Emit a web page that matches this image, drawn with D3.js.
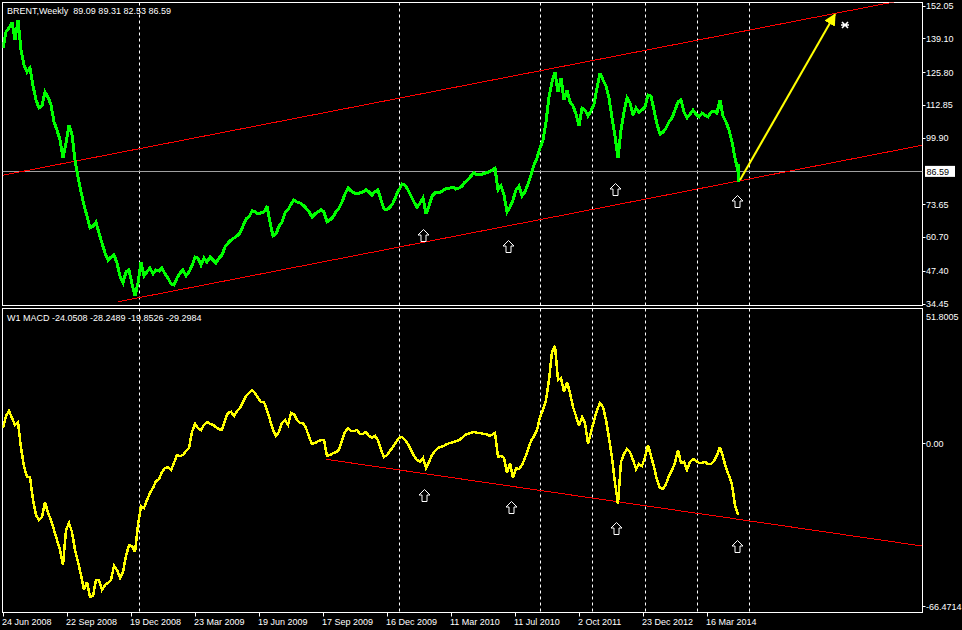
<!DOCTYPE html>
<html>
<head>
  <meta charset="utf-8">
  <title>BRENT Weekly + MACD</title>
  <script src="https://d3js.org/d3.v7.min.js"></script>
  <style>
    html, body { margin: 0; padding: 0; background: #000; }
    svg { display: block; }
    text { font-family: "Liberation Sans", Arial, sans-serif; font-size: 9px; fill: #fff; white-space: pre; }
  </style>
</head>
<body>
  <svg width="962" height="630"></svg>

  <script>
    // one value every 3 bars, first bar = 24 Jun 2008
    const step = 3;

    const price = [
      135.3, 141.6, 143.2, 145.5, 138.4, 146.3, 134.5, 128.6, 125.8, 127.4,
      120.3, 114.8, 111.6, 112.4, 117.9, 115.9, 112.8, 106.1, 102.9, 99.0,
      91.9, 97.8, 104.9, 101.0, 91.1, 84.4, 78.5, 73.3, 69.0, 64.3,
      65.0, 66.6, 62.3, 58.3, 54.4, 51.6, 52.8, 53.6, 50.4, 45.3,
      42.6, 46.9, 47.7, 42.2, 37.4, 42.6, 50.8, 45.3, 46.9, 48.5,
      46.1, 47.7, 47.3, 48.5, 46.1, 44.5, 42.2, 41.8, 44.5, 46.5,
      47.7, 45.3, 46.9, 49.3, 52.8, 52.4, 49.6, 52.4, 50.8, 52.8,
      51.6, 50.4, 52.4, 53.6, 56.8, 58.3, 59.5, 60.3, 61.1, 62.3,
      65.0, 67.8, 68.6, 71.0, 70.6, 69.8, 70.2, 70.6, 72.9, 66.6,
      61.1, 61.9, 65.0, 66.6, 70.2, 71.4, 73.7, 75.3, 74.5, 74.1,
      73.3, 72.1, 70.6, 68.6, 69.8, 70.6, 71.4, 70.6, 66.6, 67.4,
      68.6, 70.6, 72.1, 74.5, 77.7, 80.0, 78.9, 78.1, 77.7, 78.1,
      78.5, 79.3, 78.5, 77.3, 78.5, 79.3, 75.3, 71.8, 71.4, 72.5,
      74.1, 76.9, 79.3, 81.6, 81.2, 79.3, 76.9, 74.5, 72.5, 74.1,
      76.1, 69.8, 72.9, 76.9, 78.1, 78.1, 78.5, 79.3, 80.0, 80.0,
      80.4, 79.6, 80.0, 80.8, 82.4, 83.2, 84.8, 86.0, 85.2, 85.2,
      85.6, 86.0, 86.4, 87.1, 87.9, 79.3, 80.8, 77.3, 70.6, 72.5,
      75.3, 79.3, 80.8, 76.9, 78.5, 81.6, 85.2, 89.1, 91.9, 95.8,
      99.0, 106.1, 115.9, 121.9, 125.8, 117.9, 123.4, 114.8, 118.7, 114.0,
      112.4, 109.2, 104.5, 111.6, 110.8, 108.4, 110.4, 113.2, 119.5, 125.4,
      122.7, 120.3, 115.6, 107.7, 100.6, 91.9, 102.9, 110.0, 115.6, 113.6,
      108.8, 111.6, 110.0, 110.8, 112.0, 116.7, 116.3, 110.8, 105.3, 101.3,
      102.1, 103.7, 106.1, 107.7, 110.8, 114.0, 114.8, 110.0, 107.7, 109.2,
      110.8, 109.2, 108.1, 109.6, 108.8, 108.1, 110.0, 110.4, 109.6, 114.8,
      108.4, 106.1, 102.9, 98.2, 91.9, 86.59
    ];

    const macd = [
      6.1, 11.0, 13.1, 10.2, 7.4, 8.6, -2.0, -9.4, -13.9, -13.9,
      -23.2, -29.4, -31.4, -30.2, -24.0, -28.5, -31.4, -35.5, -39.5, -43.6,
      -49.7, -35.5, -32.6, -36.3, -43.6, -48.5, -53.8, -59.9, -56.7, -62.8,
      -62.4, -55.9, -55.9, -59.9, -57.9, -57.1, -55.9, -50.1, -51.8, -55.0,
      -52.6, -46.1, -41.6, -42.0, -44.4, -33.4, -25.7, -26.5, -23.2, -20.4,
      -18.3, -15.5, -14.7, -11.8, -10.2, -9.8, -11.0, -8.1, -4.9, -5.3,
      -4.9, -3.2, -2.0, 4.5, 7.8, 6.1, 5.3, 7.4, 8.6, 7.8,
      7.4, 6.5, 5.7, 5.3, 9.4, 12.3, 12.7, 11.0, 13.1, 14.3,
      16.7, 19.2, 20.4, 21.6, 20.4, 18.4, 16.7, 16.7, 13.5, 9.4,
      5.3, 2.9, 4.5, 8.2, 9.4, 7.4, 12.3, 11.8, 9.4, 8.2,
      8.2, 6.1, 2.5, -0.4, 0.0, 0.8, 1.2, 1.2, -5.3, -4.9,
      -4.1, -3.7, -2.8, 1.2, 4.5, 6.1, 4.9, 4.9, 5.3, 3.7,
      3.7, 4.5, 2.9, 2.1, 2.9, 1.2, -2.8, -5.7, -4.9, -3.2,
      -1.6, 0.4, 2.1, 2.5, 1.2, -0.4, -2.8, -5.3, -6.9, -7.7,
      -6.1, -10.2, -7.7, -4.9, -3.2, -2.0, -1.6, -1.2, -0.4, 0.0,
      0.4, 0.8, 1.2, 2.1, 3.3, 3.7, 4.1, 4.5, 4.1, 4.1,
      3.7, 3.7, 2.9, 3.3, 4.1, -5.7, -5.3, -6.1, -12.2, -8.1,
      -14.3, -10.2, -10.6, -9.0, -6.1, -2.8, 0.8, 2.9, 5.3, 10.6,
      13.5, 17.5, 25.7, 37.1, 39.6, 25.7, 26.5, 20.8, 24.9, 20.4,
      14.7, 11.0, 6.9, 10.6, 8.2, -0.4, 4.5, 9.0, 13.5, 16.3,
      14.7, 9.4, 2.1, -6.1, -16.3, -24.9, -7.7, -4.5, -2.4, -3.7,
      -6.9, -10.6, -8.6, -9.4, -5.7, -0.8, -5.3, -9.8, -15.1, -18.3,
      -18.7, -16.7, -13.4, -11.0, -8.1, -2.8, -8.1, -7.7, -11.0, -7.7,
      -6.5, -7.3, -8.1, -8.1, -7.7, -8.6, -8.6, -7.3, -4.9, -1.6,
      -5.7, -10.2, -13.4, -17.1, -25.3, -29.3
    ];

    const lastBar = { open: 89.09, high: 89.31, low: 82.53, close: 86.59 };
    const macdHeader = [-24.0508, -28.2489, -19.8526, -29.2984];

    // time axis labels, one every 64 bars
    const dateLabels = ["24 Jun 2008", "22 Sep 2008", "19 Dec 2008", "23 Mar 2009",
      "19 Jun 2009", "17 Sep 2009", "16 Dec 2009", "11 Mar 2010", "11 Jul 2010",
      "2 Oct 2011", "23 Dec 2012", "16 Mar 2014"];
    const labelEvery = 64;

    // bars where a new period starts (dashed separators)
    const periodStarts = [136, 396, 537, 589, 642, 694, 746];

    const priceTicks = [152.05, 139.10, 125.80, 112.85, 99.90, 73.65, 60.70, 47.40, 34.45];
    const macdTicks = [51.8005, 0.00, -66.4714];

    // drawn objects: [bar, value]
    const channelUpper = [[0, 85.08], [919, 155.6]];
    const channelLower = [[115, 35.15], [919, 96.88]];
    const macdSupport = [[323, -6.64], [919, -42.0]];
    const targetArrow = [[737, 83.19], [832, 148.58]];
    const targetMark = [842, 144.35];
    const priceArrows = [[420, 63.86], [505, 59.52], [612, 82.0], [734, 77.27]];
    const macdArrows = [[421, -18.74], [508, -23.64], [613, -32.2], [734, -39.54]];

    const svg = d3.select("svg");
    const left = 2.5, right = 922.5;
    const top1 = 2.5, bot1 = 305.5, top2 = 308.5, bot2 = 612.5;

    const x = d3.scaleLinear().domain([0, 919]).range([3, 922]);
    const yP = d3.scaleLinear().domain([34.45, 152.05]).range([303.5, 5.5]);
    const yM = d3.scaleLinear().domain([-66.4714, 51.8005]).range([606, 316]);

    const defs = svg.append("defs");
    defs.append("clipPath").attr("id", "clipTop").append("rect")
      .attr("x", left).attr("y", top1).attr("width", right - left).attr("height", bot1 - top1);
    defs.append("clipPath").attr("id", "clipBot").append("rect")
      .attr("x", left).attr("y", top2).attr("width", right - left).attr("height", bot2 - top2);
    defs.append("marker").attr("id", "head")
      .attr("viewBox", "0 0 10 10").attr("refX", 9).attr("refY", 5)
      .attr("markerWidth", 6).attr("markerHeight", 6).attr("markerUnits", "strokeWidth")
      .attr("orient", "auto")
      .append("path").attr("d", "M0,0 L10,5 L0,10 Z").attr("fill", "#ffff00");

    // period separators
    svg.selectAll(".sep")
      .data(periodStarts)
      .enter().append("line")
      .attr("x1", d => Math.round(x(d)) + 0.5).attr("x2", d => Math.round(x(d)) + 0.5)
      .attr("y1", top1).attr("y2", bot2)
      .attr("stroke", "#fff").attr("stroke-dasharray", "3,3");

    // panel frames
    [[top1, bot1], [top2, bot2]].forEach(([t, b]) => {
      svg.append("rect").attr("x", left).attr("y", t)
        .attr("width", right - left).attr("height", b - t)
        .attr("fill", "none").attr("stroke", "#fff");
    });

    const gTop = svg.append("g").attr("clip-path", "url(#clipTop)");
    const gBot = svg.append("g").attr("clip-path", "url(#clipBot)");

    // current price line
    gTop.append("line")
      .attr("x1", left).attr("x2", right)
      .attr("y1", Math.round(yP(lastBar.close)) + 0.5).attr("y2", Math.round(yP(lastBar.close)) + 0.5)
      .attr("stroke", "#a0a0a0");

    const segLine = (g, pts, y, color) => g.append("line")
      .attr("x1", x(pts[0][0])).attr("y1", y(pts[0][1]))
      .attr("x2", x(pts[1][0])).attr("y2", y(pts[1][1]))
      .attr("stroke", color).attr("stroke-width", 1)
      .attr("shape-rendering", "crispEdges");

    segLine(gTop, channelUpper, yP, "#ff0000");
    segLine(gTop, channelLower, yP, "#ff0000");
    segLine(gBot, macdSupport, yM, "#ff0000");

    // price
    gTop.append("path")
      .datum(price)
      .attr("fill", "none")
      .attr("stroke", "#00ff00")
      .attr("stroke-width", 3)
      .attr("stroke-linejoin", "miter")
      .attr("stroke-miterlimit", 3)
      .attr("shape-rendering", "crispEdges")
      .attr("d", d3.line().x((d, i) => x(i * step)).y(d => yP(d)));

    const lastIdx = (price.length - 1) * step;
    gTop.append("line")
      .attr("x1", x(lastIdx)).attr("x2", x(lastIdx))
      .attr("y1", yP(lastBar.high)).attr("y2", yP(lastBar.low))
      .attr("stroke", "#00ff00").attr("stroke-width", 3)
      .attr("shape-rendering", "crispEdges");

    // macd
    gBot.append("path")
      .datum(macd)
      .attr("fill", "none")
      .attr("stroke", "#ffff00")
      .attr("stroke-width", 2.5)
      .attr("stroke-linejoin", "miter")
      .attr("stroke-miterlimit", 3)
      .attr("shape-rendering", "crispEdges")
      .attr("d", d3.line().x((d, i) => x(i * step)).y(d => yM(d)));

    // target arrow
    gTop.append("line")
      .attr("x1", x(targetArrow[0][0])).attr("y1", yP(targetArrow[0][1]))
      .attr("x2", x(targetArrow[1][0])).attr("y2", yP(targetArrow[1][1]))
      .attr("stroke", "#ffff00").attr("stroke-width", 2)
      .attr("marker-end", "url(#head)");

    const mx = x(targetMark[0]), my = yP(targetMark[1]);
    gTop.append("path")
      .attr("d", `M${mx - 3},${my - 3} L${mx + 3},${my + 3} M${mx - 3},${my + 3} L${mx + 3},${my - 3} M${mx - 4},${my} L${mx + 4},${my}`)
      .attr("stroke", "#fff").attr("stroke-width", 1.6);

    // hollow up arrows
    const upArrow = "M0,0 L5.5,5.5 L2.5,5.5 L2.5,12 L-2.5,12 L-2.5,5.5 L-5.5,5.5 Z";
    gTop.selectAll(".up")
      .data(priceArrows)
      .enter().append("path")
      .attr("transform", d => `translate(${Math.round(x(d[0])) + 0.5},${Math.round(yP(d[1])) + 0.5})`)
      .attr("d", upArrow).attr("fill", "#000").attr("stroke", "#fff");
    gBot.selectAll(".up")
      .data(macdArrows)
      .enter().append("path")
      .attr("transform", d => `translate(${Math.round(x(d[0])) + 0.5},${Math.round(yM(d[1])) + 0.5})`)
      .attr("d", upArrow).attr("fill", "#000").attr("stroke", "#fff");

    // right price axis
    svg.selectAll(".pt")
      .data(priceTicks)
      .enter().append("line")
      .attr("x1", right).attr("x2", right + 3)
      .attr("y1", d => Math.round(yP(d)) + 0.5).attr("y2", d => Math.round(yP(d)) + 0.5)
      .attr("stroke", "#fff");
    svg.selectAll(".pl")
      .data(priceTicks)
      .enter().append("text")
      .attr("x", 926).attr("y", d => yP(d) + 3.5)
      .text(d => d.toFixed(2));

    svg.append("rect")
      .attr("x", 925).attr("y", yP(lastBar.close) - 5.5)
      .attr("width", 30).attr("height", 11).attr("fill", "#fff");
    svg.append("text")
      .attr("x", 926.5).attr("y", yP(lastBar.close) + 3.5)
      .style("fill", "#000")
      .text(lastBar.close.toFixed(2));

    // right macd axis
    svg.selectAll(".mt")
      .data(macdTicks.slice(1))
      .enter().append("line")
      .attr("x1", right).attr("x2", right + 3)
      .attr("y1", d => Math.round(yM(d)) + 0.5).attr("y2", d => Math.round(yM(d)) + 0.5)
      .attr("stroke", "#fff");
    svg.selectAll(".ml")
      .data(macdTicks)
      .enter().append("text")
      .attr("x", 926).attr("y", d => yM(d) + 3.5)
      .text(d => d === 0 ? "0.00" : d.toFixed(4));

    // time axis
    svg.selectAll(".xt")
      .data(dateLabels)
      .enter().append("line")
      .attr("x1", (d, i) => Math.round(x(i * labelEvery)) + 0.5)
      .attr("x2", (d, i) => Math.round(x(i * labelEvery)) + 0.5)
      .attr("y1", bot2).attr("y2", bot2 + 4)
      .attr("stroke", "#fff");
    svg.selectAll(".xl")
      .data(dateLabels)
      .enter().append("text")
      .attr("x", (d, i) => x(i * labelEvery) - 1)
      .attr("y", 625)
      .text(d => d);

    // headers
    svg.append("text").attr("x", 7).attr("y", 14)
      .text(`BRENT,Weekly  ${lastBar.open} ${lastBar.high} ${lastBar.low} ${lastBar.close}`);
    svg.append("text").attr("x", 7).attr("y", 321)
      .text("W1 MACD " + macdHeader.map(v => v.toFixed(4)).join(" "));
  </script>
</body>
</html>
